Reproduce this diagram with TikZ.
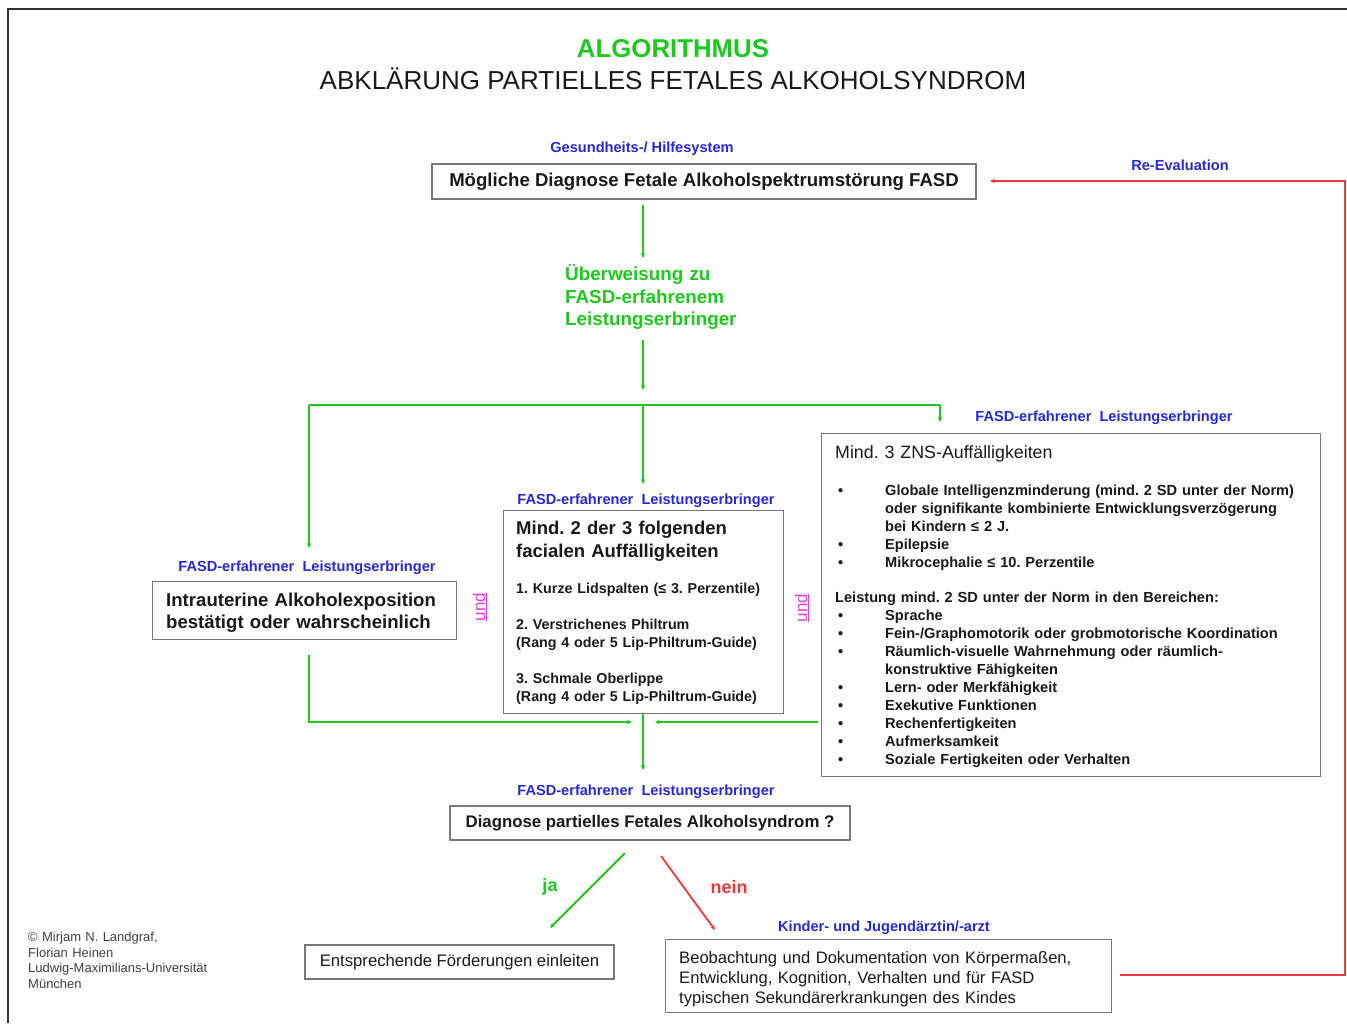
\documentclass[tikz,border=0pt]{standalone}
\usepackage{fontspec}
\setmainfont{Liberation Sans}
\usetikzlibrary{arrows.meta}
\definecolor{fgreen}{RGB}{30,200,30}
\definecolor{fblue}{RGB}{40,40,210}
\definecolor{fred}{RGB}{230,60,60}
\definecolor{fmag}{RGB}{230,60,220}
\definecolor{fbox}{RGB}{120,120,120}
\definecolor{ftext}{RGB}{25,25,25}
\newcommand\fsz[2]{\fontsize{#1}{#2}\selectfont}
\newcommand\zb{\hspace*{3pt}\makebox[47pt][l]{•}}
\newcommand\zi{\hspace*{50pt}}
\frenchspacing
\begin{document}
\frenchspacing
\begin{tikzpicture}[x=1pt,y=-1pt,
  lab/.style={text=fblue, font=\bfseries\fsz{14.6}{16}, inner sep=0pt, anchor=base},
  box/.style={draw=fbox, line width=1.3pt, inner sep=0pt, text=ftext},
  txt/.style={inner sep=0pt, anchor=base west, align=left, text=ftext},
  gline/.style={draw=fgreen, line width=1.8pt},
  garrow/.style={gline, -{Stealth[length=5pt,width=4.5pt]}},
  rline/.style={draw=fred, line width=1.8pt},
  rarrow/.style={rline, -{Stealth[length=5pt,width=4.5pt]}},
]
\useasboundingbox (0,0) rectangle (1347,1023);
% frame
\draw[line width=1.5pt, draw=black!80] (8,1023) -- (8,9) -- (1347,9);

% titles
\node[anchor=base, text=fgreen, font=\bfseries\fsz{25.8}{28}, inner sep=0pt] (title1) at (673,57) {ALGORITHMUS};
\node[anchor=base, text=ftext, font=\fsz{26}{28}, inner sep=0pt] (title2) at (673,89) {ABKLÄRUNG PARTIELLES FETALES ALKOHOLSYNDROM};

% top box
\node[lab] (lab-gs) at (642,152) {Gesundheits-/ Hilfesystem};
\node[box, minimum width=544pt, minimum height=35pt, font=\bfseries\fsz{18.6}{20}] (box1) at (704,181.5) {Mögliche Diagnose Fetale Alkoholspektrumstörung FASD};
\node[lab] (lab-re) at (1180,170) {Re-Evaluation};

% referral
\node[txt, text=fgreen, font=\bfseries\fsz{18.8}{22.5}, text width=220pt] (uw) at (565,280.5) {Überweisung zu\\FASD-erfahrenem\\Leistungserbringer};

% ZNS box
\node[lab] (lab-zns) at (1104,421) {FASD-erfahrener\ \ Leistungserbringer};
\node[box, minimum width=499pt, minimum height=343pt, anchor=north west] (zns) at (821,433) {};
\node[txt, font=\fsz{17.8}{20}, text width=460pt] (zns-head) at (835,458.5) {Mind. 3 ZNS-Auffälligkeiten};
\node[txt, font=\bfseries\fsz{14.6}{18}, text width=490pt] (zns-list) at (835,495) {%
\zb Globale Intelligenzminderung (mind. 2 SD unter der Norm)\\
\zi oder signifikante kombinierte Entwicklungsverzögerung\\
\zi bei Kindern ≤ 2 J.\\
\zb Epilepsie\\
\zb Mikrocephalie ≤ 10. Perzentile\\[17pt]
Leistung mind. 2 SD unter der Norm in den Bereichen:\\
\zb Sprache\\
\zb Fein-/Graphomotorik oder grobmotorische Koordination\\
\zb Räumlich-visuelle Wahrnehmung oder räumlich-\\
\zi konstruktive Fähigkeiten\\
\zb Lern- oder Merkfähigkeit\\
\zb Exekutive Funktionen\\
\zb Rechenfertigkeiten\\
\zb Aufmerksamkeit\\
\zb Soziale Fertigkeiten oder Verhalten};

% facial box
\node[lab] (lab-fac) at (646,504) {FASD-erfahrener\ \ Leistungserbringer};
\node[box, minimum width=280pt, minimum height=203pt, anchor=north west] (fac) at (503,510) {};
\node[txt, font=\bfseries\fsz{18.5}{23}, text width=265pt] (fac-head) at (516,534.5) {Mind. 2 der 3 folgenden\\facialen Auffälligkeiten};
\node[txt, font=\bfseries\fsz{14.3}{18}, text width=268pt] (fac-list) at (516,593) {%
1. Kurze Lidspalten (≤ 3. Perzentile)\\[18pt]
2. Verstrichenes Philtrum\\
(Rang 4 oder 5 Lip-Philtrum-Guide)\\[18pt]
3. Schmale Oberlippe\\
(Rang 4 oder 5 Lip-Philtrum-Guide)};

% intrauterine box
\node[lab] (lab-int) at (307,571) {FASD-erfahrener\ \ Leistungserbringer};
\node[box, minimum width=304pt, minimum height=58pt, anchor=north west] (int) at (152,581) {};
\node[txt, font=\bfseries\fsz{18.6}{22}, text width=290pt] (int-text) at (166,606.5) {Intrauterine Alkoholexposition\\bestätigt oder wahrscheinlich};

% und
\node[text=fmag, rotate=90, font=\fsz{17}{20}, inner sep=0pt] (und1) at (480,607) {\underline{und}};
\node[text=fmag, rotate=90, font=\fsz{17}{20}, inner sep=0pt] (und2) at (802,608) {\underline{und}};

% diagnosis box
\node[lab] (lab-dia) at (646,795) {FASD-erfahrener\ \ Leistungserbringer};
\node[box, minimum width=400pt, minimum height=34pt, font=\bfseries\fsz{16.8}{18}] (dia) at (650,823) {Diagnose partielles Fetales Alkoholsyndrom ?};

% outcomes
\node[text=fgreen, font=\bfseries\fsz{18}{20}, inner sep=0pt] (ja) at (550,887) {ja};
\node[text=fred, font=\bfseries\fsz{18}{20}, inner sep=0pt] (nein) at (729,887) {nein};
\node[box, minimum width=309pt, minimum height=34pt, font=\fsz{16.7}{18}] (foe) at (459.5,962) {Entsprechende Förderungen einleiten};
\node[lab] (lab-kj) at (884,931) {Kinder- und Jugendärztin/-arzt};
\node[box, minimum width=446pt, minimum height=73pt, anchor=north west] (obs) at (665,939) {};
\node[txt, font=\fsz{16.6}{20}, text width=440pt] (obs-text) at (679,963) {Beobachtung und Dokumentation von Körpermaßen,\\Entwicklung, Kognition, Verhalten und für FASD\\typischen Sekundärerkrankungen des Kindes};

% copyright
\node[txt, text=black!75, font=\fsz{13}{15.7}, text width=240pt] (copy) at (28,941.5) {© Mirjam N. Landgraf,\\Florian Heinen\\Ludwig-Maximilians-Universität\\München};

% connector coordinates
\coordinate (a1) at (643,205);
\coordinate (a2) at (643,258);
\coordinate (a3) at (643,340);
\coordinate (a4) at (643,390);
\coordinate (sm) at (643,405);
\coordinate (sl) at (309,405);
\coordinate (sr) at (940,405);
\coordinate (tl) at (309,548);
\coordinate (tm) at (643,484);
\coordinate (tr) at (940,422);
\coordinate (bl) at (309,655);
\coordinate (blc) at (309,722);
\coordinate (jl) at (632,722);
\coordinate (br) at (818,722);
\coordinate (jr) at (655,722);
\coordinate (fb) at (643,713);
\coordinate (db) at (643,770);
\coordinate (ja1) at (625,853);
\coordinate (ja2) at (550,928);
\coordinate (ne1) at (661,856);
\coordinate (ne2) at (715,930);
\coordinate (r0) at (1120,975);
\coordinate (r1) at (1345,975);
\coordinate (r2) at (1345,181);
\coordinate (r3) at (990,181);

% green connectors
\draw[garrow] (a1) -- (a2);
\draw[garrow] (a3) -- (a4);
\draw[gline] (sl) -- (sr);
\draw[garrow] (sl) -- (tl);
\draw[garrow] (sm) -- (tm);
\draw[garrow] (sr) -- (tr);
\draw[garrow] (bl) -- (blc) -- (jl);
\draw[garrow] (br) -- (jr);
\draw[garrow] (fb) -- (db);
\draw[garrow] (ja1) -- (ja2);
% red connectors
\draw[rarrow] (ne1) -- (ne2);
\draw[rarrow] (r0) -- (r1) -- (r2) -- (r3);
\end{tikzpicture}
\end{document}
